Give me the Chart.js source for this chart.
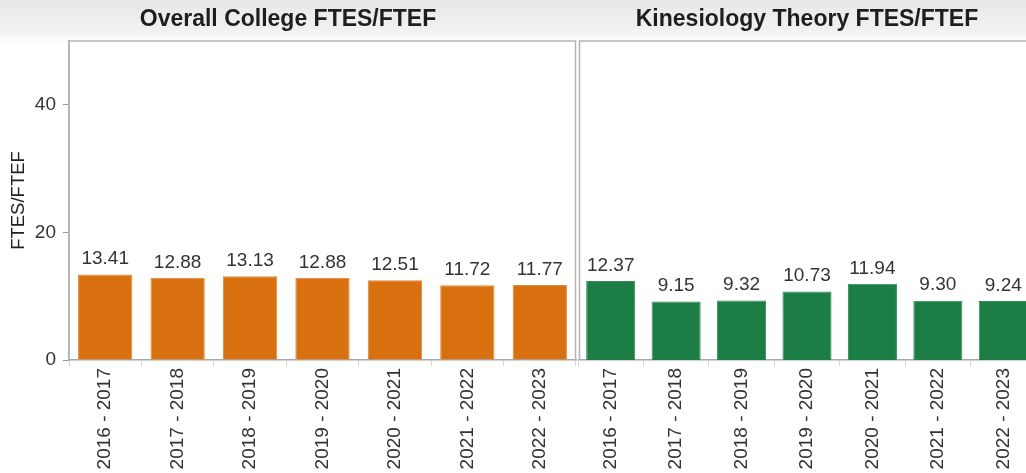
<!DOCTYPE html>
<html>
<head>
<meta charset="utf-8">
<script src="https://cdn.jsdelivr.net/npm/chart.js@4.4.1/dist/chart.umd.min.js"></script>
<style>
  html, body { margin: 0; padding: 0; width: 1026px; height: 473px; overflow: hidden;
    background: linear-gradient(to bottom, #e8e8e8 0px, #f1f1f1 30px, #ffffff 44px, #ffffff 100%); }
  #wrap { position: relative; width: 1026px; height: 473px; overflow: hidden; }
  #c1 { position: absolute; left: 0; top: 0; }
  #c2 { position: absolute; left: 578px; top: 0; }
</style>
</head>
<body>
<div id="wrap">
  <canvas id="c1" width="577" height="473"></canvas>
  <canvas id="c2" width="458" height="473"></canvas>
</div>
<script>
const categories = ["2016 - 2017", "2017 - 2018", "2018 - 2019", "2019 - 2020", "2020 - 2021", "2021 - 2022", "2022 - 2023"];
const collegeValues = [13.41, 12.88, 13.13, 12.88, 12.51, 11.72, 11.77];
const kinesiologyValues = [12.37, 9.15, 9.32, 10.73, 11.94, 9.30, 9.24];
const panelTitles = ["Overall College FTES/FTEF", "Kinesiology Theory FTES/FTEF"];
const yTitle = "FTES/FTEF";
const yTicks = [0, 20, 40];

const FONT = "'Liberation Sans', Arial, Helvetica, sans-serif";

const valueLabels = {
  id: 'valueLabels',
  afterDatasetsDraw(chart) {
    const ctx = chart.ctx;
    const ds = chart.data.datasets[0];
    const meta = chart.getDatasetMeta(0);
    ctx.save();
    ctx.font = "19px " + FONT;
    ctx.fillStyle = "#333";
    ctx.textAlign = "center";
    ctx.textBaseline = "bottom";
    meta.data.forEach((bar, i) => {
      ctx.fillText(ds.data[i].toFixed(2), bar.x, bar.y - 6);
    });
    ctx.restore();
  }
};

const boxBorder = {
  id: 'boxBorder',
  beforeDatasetsDraw(chart, args, opts) {
    const a = chart.chartArea;
    const ctx = chart.ctx;
    ctx.save();
    ctx.strokeStyle = "#b4b4b4";
    ctx.lineWidth = 1.5;
    const l = a.left + (opts.dl || 0);
    ctx.beginPath();
    ctx.moveTo(l, a.bottom);
    ctx.lineTo(l, a.top);
    ctx.lineTo(a.right - 0.5, a.top);
    ctx.lineTo(a.right - 0.5, a.bottom);
    ctx.stroke();
    ctx.restore();
  }
};

function makeChart(id, values, title, fill, border, showY, dl) {
  return new Chart(document.getElementById(id), {
    type: 'bar',
    data: {
      labels: categories,
      datasets: [{
        data: values,
        backgroundColor: fill,
        borderColor: border,
        borderWidth: 1,
        categoryPercentage: 0.75,
        barPercentage: 1.0
      }]
    },
    options: {
      responsive: false,
      animation: false,
      events: [],
      layout: { padding: { left: 0, right: showY ? 1 : 0, top: 0, bottom: 0 } },
      plugins: {
        legend: { display: false },
        tooltip: { enabled: false },
        title: {
          display: true,
          text: title,
          color: "#1e1e1e",
          font: { family: FONT, size: 23, weight: 'bold', lineHeight: 1.2 },
          padding: { top: 6, bottom: 7.4 }
        },
        boxBorder: { dl: dl }
      },
      scales: {
        x: {
          afterFit(s) { s.height = 113; },
          grid: { display: true, offset: true, drawOnChartArea: false, tickLength: 6, color: "#cfd6e0" },
          border: { display: true, color: "#a8a8a8", width: 1.5 },
          ticks: {
            color: "#333",
            font: { family: FONT, size: 19 },
            maxRotation: 90, minRotation: 90,
            padding: 2,
            autoSkip: false
          }
        },
        y: {
          display: showY,
          min: 0, max: 50,
          afterFit(s) { if (showY) s.width = 69; },
          afterBuildTicks(s) { s.ticks = yTicks.map(v => ({ value: v })); },
          grid: { display: true, drawOnChartArea: false, tickLength: 6, color: "#999" },
          border: { display: true, color: "#a8a8a8", width: 1.5 },
          ticks: {
            color: "#333",
            font: { family: FONT, size: 19 },
            padding: 7
          },
          title: {
            display: true,
            text: yTitle,
            color: "#222",
            font: { family: FONT, size: 18.5 },
            padding: { top: 8, bottom: 4 }
          }
        }
      }
    },
    plugins: [valueLabels, boxBorder]
  });
}

makeChart('c1', collegeValues, panelTitles[0], "#D8700F", "#E3893A", true, 0);
makeChart('c2', kinesiologyValues, panelTitles[1], "#1C7D45", "#2E9058", false, 1.5);
</script>
</body>
</html>
